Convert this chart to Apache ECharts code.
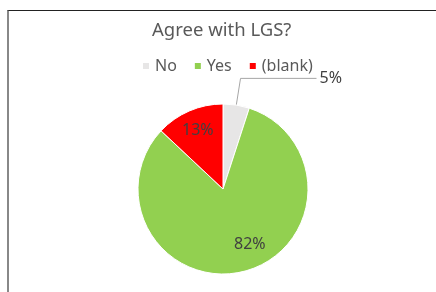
<!DOCTYPE html>
<html>
<head>
<meta charset="utf-8">
<script src="https://cdn.jsdelivr.net/npm/echarts@6/dist/echarts.min.js"></script>
<style>
	body { margin: 0; background: #fff; }
	#frame { position: absolute; left: 7px; top: 10px; right: -5px; bottom: -5px; border-top: 1px solid #222; border-left: 2px solid #888; }
	#main { position: absolute; left: 0; top: 0; width: 436px; height: 292px; }
</style>
</head>
<body>
<div id="frame"></div>
<div id="main"></div>
<script>
	// 数据
	var categories = ['No', 'Yes', '(blank)'];
	var values = [5, 82, 13];
	var colors = ['#E7E6E6', '#92D050', '#FF0000'];
	var outsideIdx = 0; // 5% 的标签放在外面

	var font = 'Noto Sans';
	var myChart = echarts.init(document.getElementById('main'));

	var labelStyle = { fontFamily: font, fontSize: 16, color: '#404040' };

	var option = {
		animation: false,
		title: {
			text: 'Agree with LGS?',
			left: 152,
			top: 21,
			padding: 0,
			textStyle: { fontFamily: font, fontSize: 18.5, fontWeight: 'normal', color: '#595959' }
		},
		legend: {
			data: categories,
			top: 58,
			left: 141,
			padding: 0,
			icon: 'rect',
			itemWidth: 8,
			itemHeight: 8,
			itemGap: 16,
			textStyle: { fontFamily: font, fontSize: 16, color: '#595959' }
		},
		series: [
			{
				type: 'pie',
				center: [223, 189],
				radius: 85,
				startAngle: 90,
				data: categories.map(function(name, i) {
					var show = i === outsideIdx;
					return {
						name: name, value: values[i],
						itemStyle: { color: colors[i] },
						label: { show: show },
						labelLine: { show: show }
					};
				}),
				itemStyle: { borderColor: '#fff', borderWidth: 1 },
				label: Object.assign({ position: 'outside', formatter: '{c}%', distanceToLabelLine: 3 }, labelStyle),
				labelLine: {
					length: 27, length2: 76,
					lineStyle: { color: '#A6A6A6', width: 1 }
				},
				emphasis: { disabled: true }
			},
			{
				// 内部标签 (13%, 82%)
				type: 'pie',
				center: [223, 189],
				radius: [36, 85],
				startAngle: 90,
				silent: true,
				data: categories.map(function(name, i) {
					return {
						name: name, value: values[i],
						itemStyle: { color: 'rgba(0,0,0,0)' },
						label: { show: i !== outsideIdx }
					};
				}),
				label: Object.assign({ position: 'inside', formatter: '{c}%' }, labelStyle),
				labelLine: { show: false },
				labelLayout: function(p) {
					return p.dataIndex === 1 ? { dx: 11, dy: -6 } : {};
				},
				emphasis: { disabled: true }
			}
		]
	};
	myChart.setOption(option);
</script>
</body>
</html>
